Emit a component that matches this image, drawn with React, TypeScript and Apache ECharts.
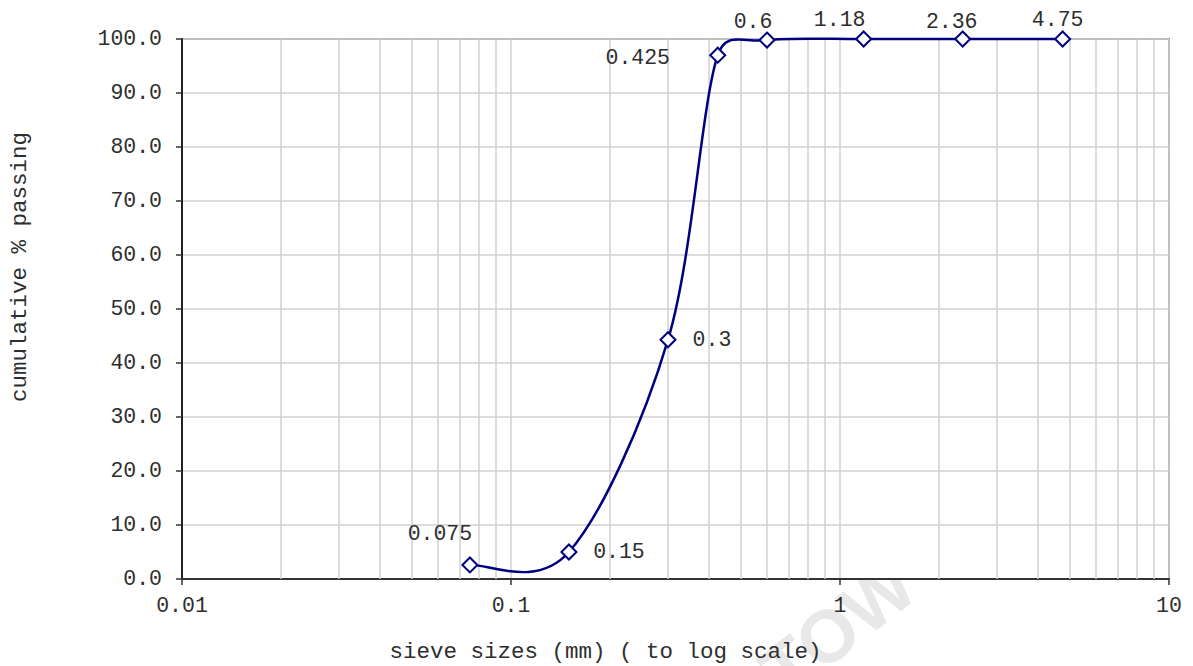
import React, { useEffect, useRef } from "react";
import * as echarts from "echarts";

const sieveSizes = [0.075, 0.15, 0.3, 0.425, 0.6, 1.18, 2.36, 4.75];
const sieveLabels = ["0.075", "0.15", "0.3", "0.425", "0.6", "1.18", "2.36", "4.75"];
const percentPassing = [2.6, 5.0, 44.3, 97.0, 99.8, 100, 100, 100];
const xTickLabels = ["0.01", "0.1", "1", "10"];
const xGridValues = [
  0.02, 0.03, 0.04, 0.05, 0.06, 0.07, 0.08, 0.09,
  0.2, 0.3, 0.4, 0.5, 0.6, 0.7, 0.8, 0.9,
  2, 3, 4, 5, 6, 7, 8, 9,
];
const labelOffsets: [number, number][] = [
  [-30, -31],
  [50, 0],
  [44, 0],
  [-80, 3],
  [-14, -18],
  [-24, -19],
  [-11, -17],
  [-5, -19],
];

const FONT = "'Liberation Mono', 'Courier New', monospace";
const TEXT_COLOR = "#2e2e2e";
const FS = 21.5;
const NAME_FS = 22.5;

// Excel-style smoothed segment (Catmull-Rom 1/6 arms, capped at half segment length)
function segmentControls(p0: number[], p1: number[], p2: number[], p3: number[]) {
  const dist = (a: number[], b: number[]) => Math.hypot(a[0] - b[0], a[1] - b[1]);
  const d12 = dist(p1, p2);
  const d02 = dist(p0, p2);
  const d13 = dist(p1, p3);
  let f1 = 1 / 6;
  let f2 = 1 / 6;
  if (d02 > 0 && d02 * f1 > d12 / 2) f1 = d12 / 2 / d02;
  if (d13 > 0 && d13 * f2 > d12 / 2) f2 = d12 / 2 / d13;
  return {
    cp1: [p1[0] + (p2[0] - p0[0]) * f1, p1[1] + (p2[1] - p0[1]) * f1],
    cp2: [p2[0] - (p3[0] - p1[0]) * f2, p2[1] - (p3[1] - p1[1]) * f2],
  };
}

export default function App() {
  const ref = useRef<HTMLDivElement>(null);
  useEffect(() => {
    if (!ref.current) return;
    const chart = echarts.init(ref.current, undefined, { renderer: "svg" });
    const n = sieveSizes.length;
    const pointData = sieveSizes.map((s, i) => ({
      value: [s, percentPassing[i]],
      label: {
        show: true,
        position: "inside",
        offset: labelOffsets[i],
        formatter: sieveLabels[i],
      },
    }));
    const segData = sieveSizes.slice(0, n - 1).map((s, i) => [s, percentPassing[i]]);

    chart.setOption({
      animation: false,
      backgroundColor: "#ffffff",
      textStyle: { fontFamily: FONT },
      grid: {
        left: 182,
        right: 24,
        top: 39,
        bottom: 87,
        show: true,
        backgroundColor: "#ffffff",
        borderColor: "#8c8c8c",
        borderWidth: 2,
        outerBoundsMode: "none",
        containLabel: false,
      },
      graphic: [
        {
          type: "text",
          x: 838,
          y: 628,
          rotation: (38 * Math.PI) / 180,
          z: -10,
          silent: true,
          style: {
            text: "TOW",
            fontSize: 74,
            fontWeight: "bold",
            fontFamily: "'Liberation Sans', Arial, sans-serif",
            fill: "#e8e8e8",
            align: "center",
            verticalAlign: "middle",
          },
        },
      ],
      xAxis: {
        type: "log",
        logBase: 10,
        min: 0.01,
        max: 10,
        name: "sieve sizes (mm) ( to log scale)",
        nameLocation: "middle",
        nameGap: 61,
        nameTextStyle: { fontFamily: FONT, fontSize: NAME_FS, color: TEXT_COLOR, padding: [0, 140, 0, 0] },
        axisLine: { show: true, lineStyle: { color: "#333", width: 2 } },
        axisTick: { show: true, inside: false, length: 6, lineStyle: { color: "#333", width: 1.5 } },
        axisLabel: {
          fontFamily: FONT,
          fontSize: FS,
          color: TEXT_COLOR,
          margin: 16,
          formatter: (v: number) => {
            const idx = Math.round(Math.log10(v) + 2);
            return xTickLabels[idx] ?? String(v);
          },
        },
        splitLine: { show: true, lineStyle: { color: "#d0d0d0", width: 1.5 } },
      },
      yAxis: {
        type: "value",
        min: 0,
        max: 100,
        interval: 10,
        name: "cumulative % passing",
        nameLocation: "middle",
        nameGap: 151,
        nameTextStyle: { fontFamily: FONT, fontSize: NAME_FS, color: TEXT_COLOR, padding: [0, 0, 0, 84] },
        axisLine: { show: true, lineStyle: { color: "#222", width: 2 } },
        axisTick: { show: true, inside: false, length: 6, lineStyle: { color: "#333", width: 1.5 } },
        axisLabel: {
          fontFamily: FONT,
          fontSize: FS,
          color: TEXT_COLOR,
          margin: 20,
          formatter: (v: number) => v.toFixed(1),
        },
        splitLine: { show: true, lineStyle: { color: "#d0d0d0", width: 1.5 } },
      },
      series: [
        {
          type: "custom",
          data: segData,
          clip: false,
          z: 4,
          silent: true,
          renderItem: (params: any, api: any) => {
            const i = params.dataIndex;
            const pt = (k: number) => {
              const j = Math.max(0, Math.min(n - 1, k));
              return api.coord([sieveSizes[j], percentPassing[j]]);
            };
            const p0 = pt(i - 1);
            const p1 = pt(i);
            const p2 = pt(i + 1);
            const p3 = pt(i + 2);
            const { cp1, cp2 } = segmentControls(p0, p1, p2, p3);
            return {
              type: "bezierCurve",
              shape: {
                x1: p1[0],
                y1: p1[1],
                x2: p2[0],
                y2: p2[1],
                cpx1: cp1[0],
                cpy1: cp1[1],
                cpx2: cp2[0],
                cpy2: cp2[1],
              },
              style: { stroke: "#000080", lineWidth: 2.5, fill: "none" },
            };
          },
        },
        {
          type: "scatter",
          data: pointData,
          symbol: "diamond",
          symbolSize: 15,
          itemStyle: { color: "#ffffff", borderColor: "#000080", borderWidth: 2, opacity: 1 },
          label: { fontFamily: FONT, fontSize: FS, color: TEXT_COLOR },
          z: 5,
          markLine: {
            silent: true,
            symbol: "none",
            label: { show: false },
            lineStyle: { color: "#d0d0d0", width: 1.5, type: "solid" },
            data: xGridValues.map((v) => ({ xAxis: v })),
            z: 1,
          },
        },
      ],
    });
    return () => chart.dispose();
  }, []);
  return <div ref={ref} style={{ width: 1193, height: 666, position: "absolute", left: 0, top: 0 }} />;
}
